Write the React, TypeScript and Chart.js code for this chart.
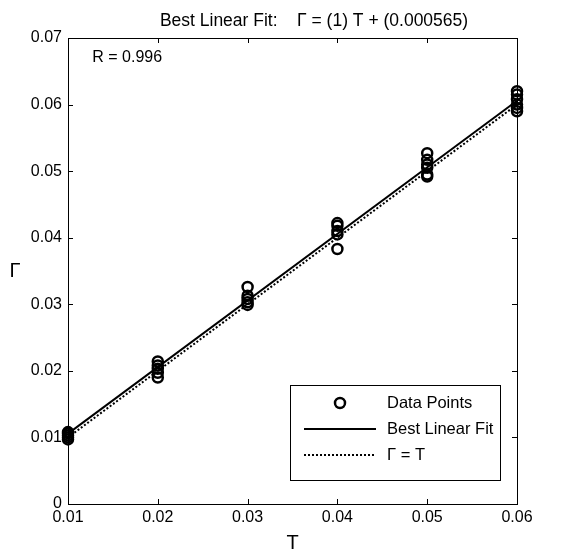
import React, { useEffect, useRef } from 'react';
import { Chart, registerables } from 'chart.js';

Chart.register(...registerables);

// Targets (T) and network outputs (Γ)
const T_VALUES = [0.01, 0.02, 0.03, 0.04, 0.05, 0.06];
const GAMMA_T01 = [0.0097, 0.0100, 0.0103, 0.0106, 0.0108];
const GAMMA_T02 = [0.0190, 0.0197, 0.0203, 0.0208, 0.0214];
const GAMMA_T03 = [0.0299, 0.0303, 0.0308, 0.0313, 0.0326];
const GAMMA_T04 = [0.0383, 0.0405, 0.0410, 0.0418, 0.0422];
const GAMMA_T05 = [0.0492, 0.0495, 0.0505, 0.0510, 0.0517, 0.0527];
const GAMMA_T06 = [0.0590, 0.0595, 0.0600, 0.0608, 0.0615, 0.0620];
const GAMMA_GROUPS = [GAMMA_T01, GAMMA_T02, GAMMA_T03, GAMMA_T04, GAMMA_T05, GAMMA_T06];

// Best linear fit Γ = (1) T + (0.000565), endpoints
const FIT_X = [0.01, 0.06];
const FIT_Y = [0.010565, 0.060565];
// Identity line Γ = T
const IDENT_X = [0.01, 0.06];
const IDENT_Y = [0.01, 0.06];

const X_TICKS = [0.01, 0.02, 0.03, 0.04, 0.05, 0.06];
const X_TICK_LABELS = ['0.01', '0.02', '0.03', '0.04', '0.05', '0.06'];
const Y_TICKS = [0, 0.01, 0.02, 0.03, 0.04, 0.05, 0.06, 0.07];
const Y_TICK_LABELS = ['0', '0.01', '0.02', '0.03', '0.04', '0.05', '0.06', '0.07'];

const TITLE = 'Best Linear Fit:    \u0393 = (1) T + (0.000565)';
const X_LABEL = 'T';
const Y_LABEL = '\u0393';
const R_TEXT = 'R = 0.996';
const LEGEND_LABELS = ['Data Points', 'Best Linear Fit', '\u0393 = T'];

const FONT = '"Liberation Sans", Arial, Helvetica, sans-serif';

const overlayPlugin = {
  id: 'overlay',
  afterDraw(chart: any) {
    const { ctx, chartArea, scales } = chart;
    const { left, right, top, bottom } = chartArea;
    const xs = scales.x;
    const ys = scales.y;
    ctx.save();
    ctx.strokeStyle = '#000';
    ctx.fillStyle = '#000';
    ctx.lineWidth = 1;
    // frame
    ctx.strokeRect(Math.round(left) + 0.5, Math.round(top) + 0.5, Math.round(right - left), Math.round(bottom - top));
    // inward ticks
    const tl = 5;
    ctx.beginPath();
    X_TICKS.forEach((v) => {
      const px = Math.round(xs.getPixelForValue(v)) + 0.5;
      ctx.moveTo(px, bottom); ctx.lineTo(px, bottom - tl);
      ctx.moveTo(px, top); ctx.lineTo(px, top + tl);
    });
    Y_TICKS.forEach((v) => {
      const py = Math.round(ys.getPixelForValue(v)) + 0.5;
      ctx.moveTo(left, py); ctx.lineTo(left + tl, py);
      ctx.moveTo(right, py); ctx.lineTo(right - tl, py);
    });
    ctx.stroke();

    // title
    ctx.font = `17.5px ${FONT}`;
    ctx.textAlign = 'center';
    ctx.textBaseline = 'alphabetic';
    ctx.fillText(TITLE, 314, 26);

    // axis labels
    ctx.font = `20px ${FONT}`;
    ctx.fillText(X_LABEL, (left + right) / 2, 549);
    ctx.textBaseline = 'middle';
    ctx.fillText(Y_LABEL, 15, (top + bottom) / 2);

    // R text
    ctx.font = `16px ${FONT}`;
    ctx.textAlign = 'left';
    ctx.fillText(R_TEXT, xs.getPixelForValue(0.0127), ys.getPixelForValue(0.067));

    // legend
    const bx = 290, by = 385, bw = 210, bh = 95;
    ctx.fillStyle = '#fff';
    ctx.fillRect(bx, by, bw, bh);
    ctx.lineWidth = 1;
    ctx.strokeRect(bx + 0.5, by + 0.5, bw, bh);
    ctx.fillStyle = '#000';
    const rowY = [by + 18, by + 44, by + 70];
    const lx0 = bx + 14, lx1 = bx + 86;
    ctx.lineWidth = 2.5;
    ctx.beginPath();
    ctx.arc(bx + 50, rowY[0], 5, 0, Math.PI * 2);
    ctx.stroke();
    ctx.lineWidth = 2;
    ctx.beginPath();
    ctx.moveTo(lx0, rowY[1]); ctx.lineTo(lx1, rowY[1]);
    ctx.stroke();
    ctx.setLineDash([2, 2]);
    ctx.beginPath();
    ctx.moveTo(lx0, rowY[2]); ctx.lineTo(lx1, rowY[2]);
    ctx.stroke();
    ctx.setLineDash([]);
    ctx.font = `16.5px ${FONT}`;
    ctx.textBaseline = 'middle';
    LEGEND_LABELS.forEach((t, i) => ctx.fillText(t, bx + 97, rowY[i]));
    ctx.restore();
  },
};

export default function App() {
  const ref = useRef<HTMLCanvasElement | null>(null);
  useEffect(() => {
    if (!ref.current) return;
    const points: { x: number; y: number }[] = [];
    T_VALUES.forEach((t, i) => GAMMA_GROUPS[i].forEach((g) => points.push({ x: t, y: g })));
    const chart = new Chart(ref.current, {
      type: 'scatter',
      data: {
        datasets: [
          {
            label: 'Best Linear Fit',
            data: FIT_X.map((x, i) => ({ x, y: FIT_Y[i] })),
            showLine: true,
            borderColor: '#000',
            borderWidth: 2,
            pointRadius: 0,
            clip: false,
          } as any,
          {
            label: '\u0393 = T',
            data: IDENT_X.map((x, i) => ({ x, y: IDENT_Y[i] })),
            showLine: true,
            borderColor: '#000',
            borderWidth: 2,
            borderDash: [2, 2],
            pointRadius: 0,
            clip: false,
          } as any,
          {
            label: 'Data Points',
            data: points,
            showLine: false,
            pointStyle: 'circle',
            pointRadius: 5,
            pointBorderWidth: 2.5,
            borderColor: '#000',
            backgroundColor: 'rgba(0,0,0,0)',
            pointBackgroundColor: 'rgba(0,0,0,0)',
            pointBorderColor: '#000',
            clip: false,
          } as any,
        ],
      },
      options: {
        animation: false,
        responsive: false,
        devicePixelRatio: 1,
        layout: { padding: { top: 38, right: 47, left: 0, bottom: 0 } },
        plugins: { legend: { display: false }, tooltip: { enabled: false }, title: { display: false } },
        scales: {
          x: {
            type: 'linear',
            min: 0.01,
            max: 0.06,
            grid: { display: false, drawTicks: false },
            border: { display: false },
            afterBuildTicks: (s: any) => { s.ticks = X_TICKS.map((v) => ({ value: v })); },
            afterFit: (s: any) => { s.height = 52; },
            ticks: {
              color: '#000',
              font: { family: FONT, size: 16 },
              padding: 4,
              maxRotation: 0,
              autoSkip: false,
              callback: (_v: any, i: number) => X_TICK_LABELS[i],
            },
          },
          y: {
            type: 'linear',
            min: 0,
            max: 0.07,
            grid: { display: false, drawTicks: false },
            border: { display: false },
            afterBuildTicks: (s: any) => { s.ticks = Y_TICKS.map((v) => ({ value: v })); },
            afterFit: (s: any) => { s.width = 68; },
            ticks: {
              color: '#000',
              font: { family: FONT, size: 16 },
              padding: 6,
              autoSkip: false,
              callback: (_v: any, i: number) => Y_TICK_LABELS[i],
            },
          },
        },
      },
      plugins: [overlayPlugin],
    });
    return () => chart.destroy();
  }, []);
  return (
    <div style={{ position: 'absolute', left: 0, top: 0, width: 564, height: 556, background: '#fff' }}>
      <canvas ref={ref} width={564} height={556} />
    </div>
  );
}
